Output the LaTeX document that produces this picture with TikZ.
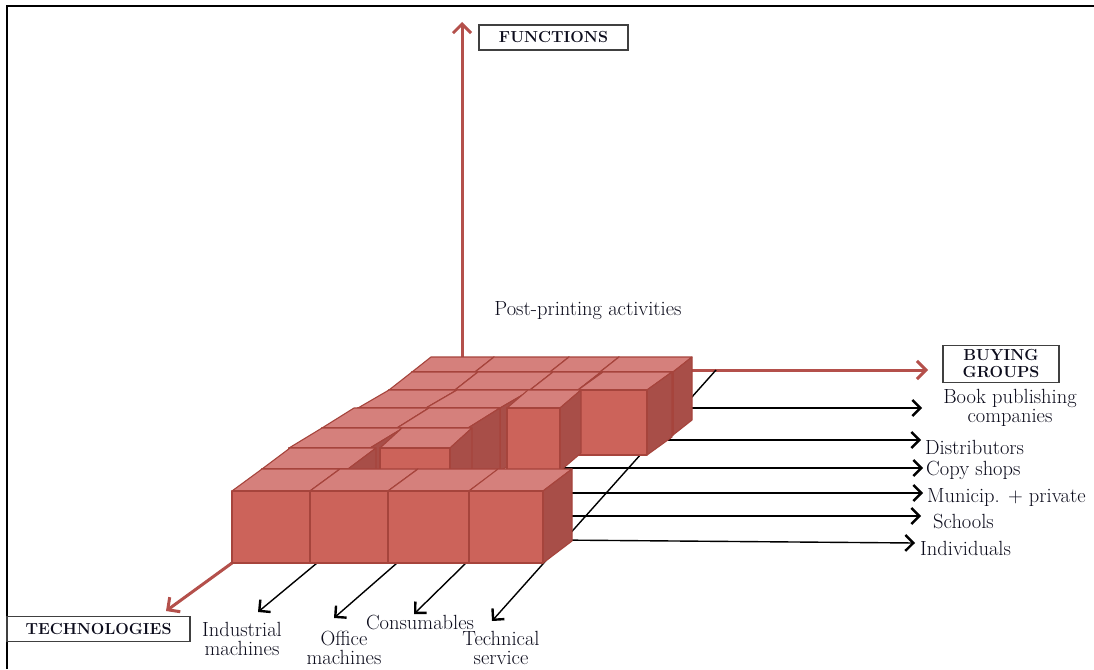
\documentclass[tikz,border=0pt]{standalone}
\usepackage{fontspec}
\usetikzlibrary{arrows.meta}
\definecolor{cfront}{RGB}{204,99,90}
\definecolor{ctop}{RGB}{213,128,124}
\definecolor{cside}{RGB}{168,78,72}
\definecolor{cedge}{RGB}{166,68,60}
\definecolor{cred}{RGB}{180,80,75}
\definecolor{ctxt}{RGB}{12,12,28}
% #1 front-left x, #2 front-right x, #3 front-top y, #4 height, #5 depth dx, #6 depth dy
\newcommand{\drawcube}[6]{%
  \filldraw[cubetop] (#1,#3) -- (#2,#3) -- (#2+#5,#3-#6) -- (#1+#5,#3-#6) -- cycle;
  \filldraw[cubeside] (#2,#3) -- (#2+#5,#3-#6) -- (#2+#5,#3+#4-#6) -- (#2,#3+#4) -- cycle;
  \filldraw[cubefront] (#1,#3) rectangle (#2,#3+#4);
}
\begin{document}
\begin{tikzpicture}[x=1pt,y=-1pt,
  cubetop/.style={fill=ctop,draw=cedge,line width=1.1pt,line join=round},
  cubeside/.style={fill=cside,draw=cedge,line width=1.1pt,line join=round},
  cubefront/.style={fill=cfront,draw=cedge,line width=1.1pt,line join=round},
  redarrow/.style={draw=cred,line width=3pt,-{Straight Barb[length=9pt,width=18pt,line width=3pt]}},
  blkarrow/.style={draw=black,line width=1.4pt,-{Straight Barb[length=8pt,width=16pt,line width=2.4pt]}},
  lbl/.style={font=\fontsize{20.5}{19.5}\selectfont,text=ctxt,inner sep=0pt,align=center},
  boxlbl/.style={draw=black!75,line width=1.6pt,fill=white,font=\fontsize{16}{17}\selectfont\bfseries,text=ctxt,inner sep=0pt,align=center}
]
\useasboundingbox (0,0) rectangle (1094,669);
\fill[white] (0,0) rectangle (1094,669);
% frame
\draw[line width=1.5pt] (7,669) -- (7,6) -- (1094,6);

% coordinates for connectors
\coordinate (fBase) at (462,380); \coordinate (fTip) at (462,22);
\coordinate (bBase) at (680,370); \coordinate (bTip) at (928,370);
\coordinate (tBase) at (232,563); \coordinate (tTip) at (166,611);
\coordinate (tsA) at (716,370); \coordinate (tsB) at (492,621);
\coordinate (imA) at (317,563); \coordinate (imB) at (258,612);
\coordinate (omA) at (397,563); \coordinate (omB) at (334,618);
\coordinate (coA) at (466,563); \coordinate (coB) at (414,614);
\coordinate (bkA) at (660,408); \coordinate (bkB) at (922,408);
\coordinate (diA) at (640,440); \coordinate (diB) at (921,440);
\coordinate (cpA) at (555,468); \coordinate (cpB) at (923,468);
\coordinate (muA) at (555,493); \coordinate (muB) at (923,493);
\coordinate (scA) at (555,516); \coordinate (scB) at (921,516);
\coordinate (inA) at (555,540); \coordinate (inB) at (915,543);

% red axes
\draw[redarrow] (fBase) -- (fTip);
\draw[redarrow] (bBase) -- (bTip);
\draw[redarrow] (tBase) -- (tTip);

% black floor arrows
\draw[blkarrow] (tsA) -- (tsB);
\draw[blkarrow] (imA) -- (imB);
\draw[blkarrow] (omA) -- (omB);
\draw[blkarrow] (coA) -- (coB);
\draw[blkarrow] (bkA) -- (bkB);
\draw[blkarrow] (diA) -- (diB);
\draw[blkarrow] (cpA) -- (cpB);
\draw[blkarrow] (muA) -- (muB);
\draw[blkarrow] (scA) -- (scB);
\draw[blkarrow] (inA) -- (inB);

% cubes, back to front
\drawcube{412}{475}{372}{63}{19}{15}
\drawcube{475}{550}{372}{63}{19}{15}
\drawcube{550}{600}{372}{63}{19}{15}
\drawcube{600}{673}{372}{63}{19}{15}
\drawcube{389}{455}{390}{65}{23}{18}
\drawcube{455}{530}{390}{65}{23}{18}
\drawcube{530}{578}{390}{65}{23}{18}
\drawcube{578}{647}{390}{65}{25}{18}
\drawcube{358}{426}{408}{63}{31}{18}
\drawcube{426}{500}{408}{63}{31}{18}
\drawcube{507}{560}{408}{63}{21}{18}
\drawcube{322}{397}{428}{63}{32}{20}
\drawcube{397}{468}{428}{63}{32}{20}
\drawcube{289}{370}{448}{63}{33}{20}
\drawcube{380}{450}{448}{63}{22}{20}
\drawcube{262}{348}{469}{63}{28}{21}
\drawcube{232}{310}{491}{72}{30}{22}
\drawcube{310}{388}{491}{72}{30}{22}
\drawcube{388}{469}{491}{72}{30}{22}
\drawcube{469}{543}{491}{72}{29}{22}

% boxed axis labels
\node[boxlbl,minimum width=149pt,minimum height=25pt] (func) at (553.5,37.5) {FUNCTIONS};
\node[boxlbl,minimum width=116pt,minimum height=37pt] (buy) at (1001,364) {BUYING\\GROUPS};
\node[boxlbl,minimum width=183pt,minimum height=25pt] (tech) at (98.5,629) {TECHNOLOGIES};

% labels
\node[lbl] (post) at (588,311) {Post-printing activities};
\node[lbl] (book) at (1010,408) {Book publishing\\companies};
\node[lbl,anchor=west] (dist) at (925,447) {Distributors};
\node[lbl,anchor=west] (copy) at (926,470) {Copy shops};
\node[lbl,anchor=west] (muni) at (927,497) {Municip. + private};
\node[lbl,anchor=west] (scho) at (933,521) {Schools};
\node[lbl,anchor=west] (indi) at (920,548) {Individuals};
\node[lbl] (indm) at (242,639) {Industrial\\machines};
\node[lbl] (offm) at (344,648) {Office\\machines};
\node[lbl] (cons) at (420,622) {Consumables};
\node[lbl] (tser) at (501,648) {Technical\\service};
\end{tikzpicture}
\end{document}
